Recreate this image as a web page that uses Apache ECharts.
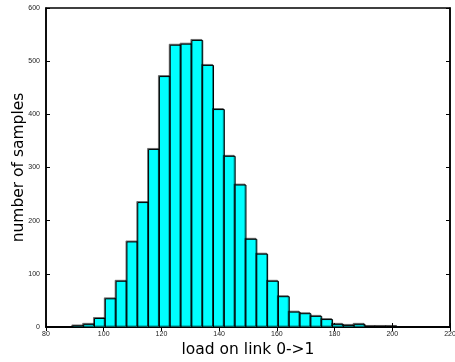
<!DOCTYPE html>
<html>
<head>
<meta charset="utf-8">
<script src="https://cdn.jsdelivr.net/npm/echarts@6/dist/echarts.min.js"></script>
<style>
html,body{margin:0;padding:0;background:#fff;}
#chart{width:455px;height:362px;}
</style>
</head>
<body>
<div id="chart"></div>
<script>
// Histogram bins: left edges (load on link 0->1) and counts
const binLeft = [89.3, 93.05, 96.8, 100.55, 104.3, 108.05, 111.8, 115.55, 119.3, 123.05,
                 126.8, 130.55, 134.3, 138.05, 141.8, 145.55, 149.3, 153.05, 156.8, 160.55,
                 164.3, 168.05, 171.8, 175.55, 179.3, 183.05, 186.8, 190.55, 194.3, 198.05];
const binWidth = 3.75;
const counts = [2, 5, 16, 53, 86, 160, 234, 334, 471, 530,
                532, 539, 492, 409, 321, 267, 165, 137, 86, 57,
                28, 25, 20, 14, 5, 3, 5, 1, 1, 1];
const xTicks = [80, 100, 120, 140, 160, 180, 200, 220];
const yTicks = [0, 100, 200, 300, 400, 500, 600];

const data = binLeft.map((lo, i) => [lo, lo + binWidth, counts[i]]);

const chart = echarts.init(document.getElementById('chart'), null, {renderer: 'canvas'});
const tickFont = {fontFamily: 'Liberation Sans, Arial, sans-serif', fontSize: 7, color: '#222'};
const titleFont = {fontFamily: 'DejaVu Sans, sans-serif', fontSize: 15.5, color: '#000'};

chart.setOption({
  animation: false,
  backgroundColor: '#fff',
  grid: {left: 46, right: 5, top: 8, bottom: 35, show: true, borderColor: '#000', borderWidth: 1.5,
         containLabel: false, outerBoundsMode: 'none'},
  xAxis: [{
    type: 'value', min: xTicks[0], max: xTicks[xTicks.length - 1], interval: 20,
    name: 'load on link 0->1', nameLocation: 'middle', nameGap: 15, nameMoveOverlap: false,
    nameTextStyle: titleFont,
    axisLine: {show: true, lineStyle: {color: '#000', width: 1.5}},
    axisTick: {show: true, inside: true, length: 4, lineStyle: {color: '#000'}},
    axisLabel: Object.assign({margin: 4, hideOverlap: false}, tickFont),
    splitLine: {show: false}
  }, {
    type: 'value', position: 'top', min: xTicks[0], max: xTicks[xTicks.length - 1], interval: 20,
    axisLine: {show: true, lineStyle: {color: '#000', width: 1.5}},
    axisTick: {show: true, inside: true, length: 4, lineStyle: {color: '#000'}},
    axisLabel: {show: false}, splitLine: {show: false}
  }],
  yAxis: [{
    type: 'value', min: yTicks[0], max: yTicks[yTicks.length - 1], interval: 100,
    name: 'number of samples', nameLocation: 'middle', nameGap: 19, nameMoveOverlap: false,
    nameTextStyle: titleFont,
    axisLine: {show: true, lineStyle: {color: '#000', width: 1.5}},
    axisTick: {show: true, inside: true, length: 4, lineStyle: {color: '#000'}},
    axisLabel: Object.assign({margin: 6}, tickFont),
    splitLine: {show: false}
  }, {
    type: 'value', position: 'right', min: yTicks[0], max: yTicks[yTicks.length - 1], interval: 100,
    axisLine: {show: true, lineStyle: {color: '#000', width: 1.5}},
    axisTick: {show: true, inside: true, length: 4, lineStyle: {color: '#000'}},
    axisLabel: {show: false}, splitLine: {show: false}
  }],
  series: [{
    type: 'custom',
    xAxisIndex: 0, yAxisIndex: 0,
    encode: {x: [0, 1], y: 2},
    data: data,
    renderItem: function (params, api) {
      const p0 = api.coord([api.value(0), api.value(2)]);
      const p1 = api.coord([api.value(1), 0]);
      return {
        type: 'rect',
        shape: {x: p0[0], y: p0[1], width: p1[0] - p0[0], height: p1[1] - p0[1]},
        style: {
          fill: '#00FFFF', stroke: '#000', lineWidth: 1,
          shadowColor: 'rgba(0,0,0,0.45)', shadowOffsetX: -1, shadowOffsetY: -1, shadowBlur: 0
        }
      };
    }
  }]
});
</script>
</body>
</html>
